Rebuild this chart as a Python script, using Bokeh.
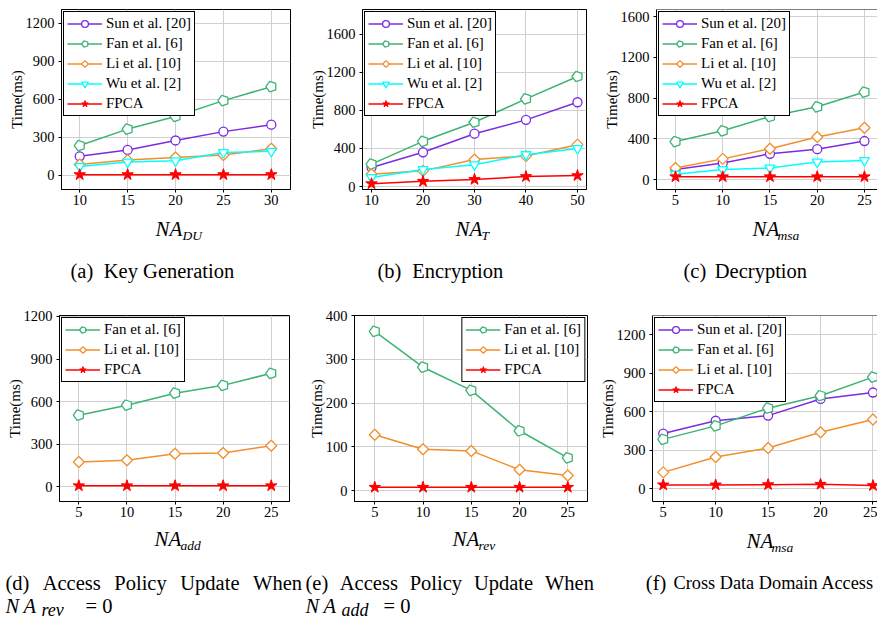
import numpy as np
from bokeh.plotting import figure
from bokeh.models import Range1d, FixedTicker, Label, Span
from bokeh.layouts import row, column
from bokeh.embed import file_html
from bokeh.resources import INLINE

# ---------------- data ----------------
names = ["Sun et al. [20]", "Fan et al. [6]", "Li et al. [10]", "Wu et al. [2]", "FPCA"]

x_a = [10, 15, 20, 25, 30]
a_sun = [150, 200, 275, 345, 400]
a_fan = [235, 365, 465, 590, 700]
a_li = [85, 120, 140, 160, 210]
a_wu = [70, 105, 115, 180, 190]
a_fpca = [5, 5, 5, 5, 5]

x_b = [10, 20, 30, 40, 50]
b_sun = [200, 360, 555, 700, 885]
b_fan = [235, 475, 675, 920, 1155]
b_li = [130, 165, 285, 320, 440]
b_wu = [95, 180, 230, 335, 400]
b_fpca = [30, 55, 75, 105, 115]

x_c = [5, 10, 15, 20, 25]
c_sun = [100, 165, 255, 300, 380]
c_fan = [375, 480, 620, 715, 860]
c_li = [115, 205, 305, 420, 510]
c_wu = [55, 100, 115, 175, 190]
c_fpca = [30, 30, 30, 30, 30]

x_d = [5, 10, 15, 20, 25]
d_fan = [505, 575, 660, 715, 800]
d_li = [175, 187, 233, 238, 290]
d_fpca = [8, 8, 8, 8, 8]

x_e = [5, 10, 15, 20, 25]
e_fan = [364, 282, 229, 137, 75]
e_li = [128, 95, 91, 48, 35]
e_fpca = [8, 8, 8, 8, 8]

x_f = [5, 10, 15, 20, 25]
f_sun = [430, 530, 570, 700, 750]
f_fan = [385, 490, 628, 725, 870]
f_li = [128, 248, 318, 440, 540]
f_fpca = [30, 30, 32, 35, 25]

ticks_x_a = [10, 15, 20, 25, 30]
ticks_x_b = [10, 20, 30, 40, 50]
ticks_x_5 = [5, 10, 15, 20, 25]
ticks_y_300 = [0, 300, 600, 900, 1200]
ticks_y_400 = [0, 400, 800, 1200, 1600]
ticks_y_100 = [0, 100, 200, 300, 400]

# ---------------- styles ----------------
COL = {"sun": "#7b2be2", "fan": "#3cb371", "li": "#f28e2b", "wu": "#00ffff", "fpca": "#ff0000"}
SERIF = "Liberation Serif"


def poly_marker(p, xs, ys, name, color, n, radius, angle):
    try:
        p.ngon(x=xs, y=ys, radius=radius, radius_units="screen", n=n, angle=angle,
               line_color=color, fill_color="white", line_width=1.3, legend_label=name)
    except Exception:
        p.scatter(xs, ys, marker="hex" if n == 5 else "diamond", size=2 * radius,
                  line_color=color, fill_color="white", line_width=1.3, legend_label=name)


def series(p, xs, ys, name, color, kind):
    p.line(xs, ys, line_color=color, line_width=1.5, legend_label=name)
    if kind == "circle":
        p.scatter(xs, ys, marker="circle", size=9, line_color=color, fill_color="white",
                  line_width=1.3, legend_label=name)
    elif kind == "pent":
        poly_marker(p, xs, ys, name, color, 5, 5.5, np.pi / 2)
    elif kind == "diamond":
        poly_marker(p, xs, ys, name, color, 4, 5.5, 0.0)
    elif kind == "tri":
        p.scatter(xs, ys, marker="inverted_triangle", size=10, line_color=color,
                  fill_color="white", line_width=1.3, legend_label=name)
    elif kind == "star":
        p.scatter(xs, ys, marker="star", size=12, line_color=color, fill_color=color,
                  line_width=1, legend_label=name)


def make_fig(fig_box, frame_box, xr, yr, xt, yt, clipped=False):
    fx0, fy0, fx1, fy1 = fig_box
    l, t, r, b = frame_box
    p = figure(width=fx1 - fx0, height=fy1 - fy0,
               min_border_left=l - fx0, min_border_right=fx1 - r,
               min_border_top=t - fy0, min_border_bottom=fy1 - b,
               x_range=Range1d(*xr), y_range=Range1d(*yr),
               output_backend="svg", toolbar_location=None)
    p.background_fill_color = "white"
    p.border_fill_color = "white"
    p.xaxis.ticker = FixedTicker(ticks=xt)
    p.yaxis.ticker = FixedTicker(ticks=yt)
    p.axis.minor_tick_line_color = None
    p.axis.major_tick_in = 0
    p.axis.major_tick_out = 3
    p.axis.major_tick_line_color = "black"
    p.axis.axis_line_color = "black"
    p.axis.major_label_text_font = SERIF
    p.axis.major_label_text_font_size = "14.5px"
    p.axis.major_label_text_color = "black"
    p.xaxis.major_label_standoff = 2
    p.yaxis.major_label_standoff = 4
    p.yaxis.axis_label = "Time(ms)"
    p.yaxis.axis_label_text_font = SERIF
    p.yaxis.axis_label_text_font_size = "15px"
    p.yaxis.axis_label_text_font_style = "normal"
    p.yaxis.axis_label_text_color = "black"
    p.yaxis.axis_label_standoff = -2
    p.grid.grid_line_color = "#d0d0d0"
    p.grid.grid_line_width = 1
    if clipped:
        p.outline_line_color = None
        p.add_layout(Span(location=yr[1], dimension="width", line_color="black", line_width=1))
    else:
        p.outline_line_color = "black"
        p.outline_line_width = 1
        p.outline_line_alpha = 1
    return p


def style_legend(p, loc):
    lg = p.legend[0]
    lg.location = loc
    lg.border_line_color = "black"
    lg.border_line_width = 1
    lg.border_line_alpha = 1
    lg.background_fill_color = "white"
    lg.background_fill_alpha = 1
    lg.label_text_font = SERIF
    lg.label_text_font_size = "15px"
    lg.label_text_color = "black"
    lg.glyph_width = 35
    lg.glyph_height = 17
    lg.label_height = 17
    lg.label_standoff = 4
    lg.spacing = 3
    lg.padding = 3
    lg.margin = 2


def make_strip(top, bottom):
    h = bottom - top
    p = figure(width=877, height=h, min_border_left=0, min_border_right=0,
               min_border_top=0, min_border_bottom=0,
               x_range=Range1d(0, 877), y_range=Range1d(bottom, top),
               x_axis_type=None, y_axis_type=None,
               output_backend="svg", toolbar_location=None)
    p.outline_line_color = None
    p.background_fill_color = "white"
    p.border_fill_color = "white"
    return p


def txt(p, x, y, text, size, style="normal"):
    p.add_layout(Label(x=x, y=y, text=text, text_font=SERIF, text_font_size=f"{size}px",
                       text_font_style=style, text_align="left", text_baseline="alphabetic",
                       text_color="black"))


# ---------------- (a) ----------------
pa = make_fig((0, 0, 300, 215), (61, 9, 290, 190), (8.1, 32.0), (-112.4, 1310), ticks_x_a, ticks_y_300)
series(pa, x_a, a_sun, names[0], COL["sun"], "circle")
series(pa, x_a, a_fan, names[1], COL["fan"], "pent")
series(pa, x_a, a_li, names[2], COL["li"], "diamond")
series(pa, x_a, a_wu, names[3], COL["wu"], "tri")
series(pa, x_a, a_fpca, names[4], COL["fpca"], "star")
style_legend(pa, "top_left")

# ---------------- (b) ----------------
pb = make_fig((300, 0, 595, 215), (362, 9, 586, 194), (8.25, 51.75), (-30.6, 1858), ticks_x_b, ticks_y_400)
series(pb, x_b, b_sun, names[0], COL["sun"], "circle")
series(pb, x_b, b_fan, names[1], COL["fan"], "pent")
series(pb, x_b, b_li, names[2], COL["li"], "diamond")
series(pb, x_b, b_wu, names[3], COL["wu"], "tri")
series(pb, x_b, b_fpca, names[4], COL["fpca"], "star")
style_legend(pb, "top_left")

# ---------------- (c) ----------------
pc = make_fig((595, 0, 877, 215), (656, 9, 877, 189), (2.99, 26.38), (-95, 1668.6), ticks_x_5, ticks_y_400,
              clipped=True)
series(pc, x_c, c_sun, names[0], COL["sun"], "circle")
series(pc, x_c, c_fan, names[1], COL["fan"], "pent")
series(pc, x_c, c_li, names[2], COL["li"], "diamond")
series(pc, x_c, c_wu, names[3], COL["wu"], "tri")
series(pc, x_c, c_fpca, names[4], COL["fpca"], "star")
style_legend(pc, "top_left")

# ---------------- strip 1: x labels + captions (a)-(c) ----------------
s1 = make_strip(215, 300)
txt(s1, 155, 228.5, "NA", 21, "italic")
txt(s1, 182, 235, "DU", 13.5, "italic")
txt(s1, 455, 228.5, "NA", 21, "italic")
txt(s1, 481, 235, "T", 13.5, "italic")
txt(s1, 752, 228.5, "NA", 21, "italic")
txt(s1, 777, 235, "msa", 13.5, "italic")
txt(s1, 70, 270.7, "(a)", 20.5)
txt(s1, 103.3, 270.7, "Key Generation", 20.5)
txt(s1, 377, 270.7, "(b)", 20.5)
txt(s1, 411.7, 270.7, "Encryption", 20.5)
txt(s1, 683, 270.7, "(c)", 20.5)
txt(s1, 714.3, 270.7, "Decryption", 20.5)

# ---------------- (d) ----------------
pd_ = make_fig((0, 300, 300, 524), (59, 315, 289, 502), (2.99, 26.9), (-103, 1207), ticks_x_5, ticks_y_300)
series(pd_, x_d, d_fan, names[1], COL["fan"], "pent")
series(pd_, x_d, d_li, names[2], COL["li"], "diamond")
series(pd_, x_d, d_fpca, names[4], COL["fpca"], "star")
style_legend(pd_, "top_left")

# ---------------- (e) ----------------
pe = make_fig((300, 300, 595, 524), (354, 315, 587, 501), (2.9, 27.04), (-24.4, 400), ticks_x_5, ticks_y_100)
series(pe, x_e, e_fan, names[1], COL["fan"], "pent")
series(pe, x_e, e_li, names[2], COL["li"], "diamond")
series(pe, x_e, e_fpca, names[4], COL["fpca"], "star")
style_legend(pe, "top_right")

# ---------------- (f) ----------------
pf = make_fig((595, 300, 877, 524), (652, 315, 877, 501), (3.98, 25.43), (-99, 1350), ticks_x_5, ticks_y_300,
              clipped=True)
series(pf, x_f, f_sun, names[0], COL["sun"], "circle")
series(pf, x_f, f_fan, names[1], COL["fan"], "pent")
series(pf, x_f, f_li, names[2], COL["li"], "diamond")
series(pf, x_f, f_fpca, names[4], COL["fpca"], "star")
style_legend(pf, "top_left")

# ---------------- strip 2: x labels + captions (d)-(f) ----------------
s2 = make_strip(524, 618)
txt(s2, 154, 538.8, "NA", 21, "italic")
txt(s2, 180, 545, "add", 13.5, "italic")
txt(s2, 452, 538.8, "NA", 21, "italic")
txt(s2, 478, 545, "rev", 13.5, "italic")
txt(s2, 746, 540, "NA", 21, "italic")
txt(s2, 771, 547, "msa", 13.5, "italic")
for word, wx in [("(d)", 5), ("Access", 42.2), ("Policy", 113.8), ("Update", 179.8), ("When", 252.6),
                 ("(e)", 305), ("Access", 339.3), ("Policy", 409.2), ("Update", 473.4), ("When", 544.5),
                 ("(f)", 645.3)]:
    txt(s2, wx, 582.7, word, 20.5)
txt(s2, 673, 582.7, "Cross Data Domain Access", 18.3)
txt(s2, 5, 605, "N", 20.5, "italic")
txt(s2, 23, 605, "A", 20.5, "italic")
txt(s2, 41, 609, "rev", 18, "italic")
txt(s2, 85, 605, "= 0", 20.5)
txt(s2, 305, 605, "N", 20.5, "italic")
txt(s2, 323, 605, "A", 20.5, "italic")
txt(s2, 341, 609, "add", 18, "italic")
txt(s2, 383, 605, "= 0", 20.5)

layout = column(row(pa, pb, pc), s1, row(pd_, pe, pf), s2)
open("out.html", "w").write(file_html(layout, INLINE))
